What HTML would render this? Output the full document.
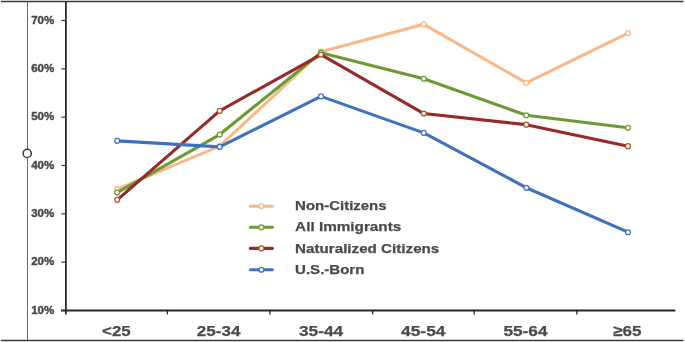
<!DOCTYPE html><html><head><meta charset="utf-8"><style>html,body{margin:0;padding:0;background:#fff;}svg{display:block;filter:blur(0.45px);}text{font-family:"Liberation Sans", sans-serif;font-weight:bold;fill:#4a4a4a;stroke:#4a4a4a;stroke-width:0.25px;}</style></head><body><svg width="685" height="342" viewBox="0 0 685 342"><rect width="685" height="342" fill="#fff"/><line x1="1" y1="1.5" x2="683.5" y2="1.5" stroke="#3a3a3a" stroke-width="1.4"/><line x1="1" y1="340.5" x2="683.5" y2="340.5" stroke="#3a3a3a" stroke-width="1.4"/><line x1="27.5" y1="1.5" x2="27.5" y2="340.5" stroke="#6a6a6a" stroke-width="1"/><circle cx="27.2" cy="153.4" r="4.1" fill="#fff" stroke="#3a3a3a" stroke-width="1.5"/><line x1="65.9" y1="1.5" x2="65.9" y2="314.6" stroke="#2a2a2a" stroke-width="1.8"/><line x1="61" y1="310.5" x2="675.3" y2="310.5" stroke="#262626" stroke-width="1.8"/><line x1="61.5" y1="20.50" x2="66" y2="20.50" stroke="#333" stroke-width="1.2"/><text x="31.20" y="23.80" font-size="11.2" textLength="23.10" lengthAdjust="spacingAndGlyphs" style="stroke-width:0.4px">70%</text><line x1="61.5" y1="68.83" x2="66" y2="68.83" stroke="#333" stroke-width="1.2"/><text x="31.20" y="72.13" font-size="11.2" textLength="23.10" lengthAdjust="spacingAndGlyphs" style="stroke-width:0.4px">60%</text><line x1="61.5" y1="117.17" x2="66" y2="117.17" stroke="#333" stroke-width="1.2"/><text x="31.20" y="120.47" font-size="11.2" textLength="23.10" lengthAdjust="spacingAndGlyphs" style="stroke-width:0.4px">50%</text><line x1="61.5" y1="165.50" x2="66" y2="165.50" stroke="#333" stroke-width="1.2"/><text x="31.20" y="168.80" font-size="11.2" textLength="23.10" lengthAdjust="spacingAndGlyphs" style="stroke-width:0.4px">40%</text><line x1="61.5" y1="213.83" x2="66" y2="213.83" stroke="#333" stroke-width="1.2"/><text x="31.20" y="217.13" font-size="11.2" textLength="23.10" lengthAdjust="spacingAndGlyphs" style="stroke-width:0.4px">30%</text><line x1="61.5" y1="262.17" x2="66" y2="262.17" stroke="#333" stroke-width="1.2"/><text x="31.20" y="265.47" font-size="11.2" textLength="23.10" lengthAdjust="spacingAndGlyphs" style="stroke-width:0.4px">20%</text><line x1="61.5" y1="310.50" x2="66" y2="310.50" stroke="#333" stroke-width="1.2"/><text x="31.20" y="313.80" font-size="11.2" textLength="23.10" lengthAdjust="spacingAndGlyphs" style="stroke-width:0.4px">10%</text><line x1="167.40" y1="310.5" x2="167.40" y2="314.4" stroke="#262626" stroke-width="1.3"/><line x1="269.90" y1="310.5" x2="269.90" y2="314.4" stroke="#262626" stroke-width="1.3"/><line x1="372.60" y1="310.5" x2="372.60" y2="314.4" stroke="#262626" stroke-width="1.3"/><line x1="474.20" y1="310.5" x2="474.20" y2="314.4" stroke="#262626" stroke-width="1.3"/><line x1="576.80" y1="310.5" x2="576.80" y2="314.4" stroke="#262626" stroke-width="1.3"/><text x="102.10" y="336.3" font-size="15.2" textLength="28.50" lengthAdjust="spacingAndGlyphs">&lt;25</text><text x="196.70" y="336.3" font-size="15.2" textLength="43.80" lengthAdjust="spacingAndGlyphs">25-34</text><text x="299.00" y="336.3" font-size="15.2" textLength="44.20" lengthAdjust="spacingAndGlyphs">35-44</text><text x="401.00" y="336.3" font-size="15.2" textLength="44.50" lengthAdjust="spacingAndGlyphs">45-54</text><text x="503.40" y="336.3" font-size="15.2" textLength="44.10" lengthAdjust="spacingAndGlyphs">55-64</text><text x="613.20" y="336.3" font-size="15.2" textLength="28.30" lengthAdjust="spacingAndGlyphs">&#8805;65</text><polyline points="117.20,189.18 219.70,146.17 321.00,51.68 423.80,24.37 526.30,82.85 628.00,33.07" fill="none" stroke="#F8B986" stroke-width="3.10" stroke-linejoin="round" stroke-linecap="round"/><circle cx="117.20" cy="189.18" r="2.45" fill="#fff" stroke="#F8B986" stroke-width="1.25"/><circle cx="219.70" cy="146.17" r="2.45" fill="#fff" stroke="#F8B986" stroke-width="1.25"/><circle cx="321.00" cy="51.68" r="2.45" fill="#fff" stroke="#F8B986" stroke-width="1.25"/><circle cx="423.80" cy="24.37" r="2.45" fill="#fff" stroke="#F8B986" stroke-width="1.25"/><circle cx="526.30" cy="82.85" r="2.45" fill="#fff" stroke="#F8B986" stroke-width="1.25"/><circle cx="628.00" cy="33.07" r="2.45" fill="#fff" stroke="#F8B986" stroke-width="1.25"/><polyline points="117.20,192.57 219.70,134.57 321.00,52.64 423.80,78.74 526.30,115.23 628.00,127.80" fill="none" stroke="#6C9A33" stroke-width="3.10" stroke-linejoin="round" stroke-linecap="round"/><circle cx="117.20" cy="192.57" r="2.45" fill="#fff" stroke="#6C9A33" stroke-width="1.25"/><circle cx="219.70" cy="134.57" r="2.45" fill="#fff" stroke="#6C9A33" stroke-width="1.25"/><circle cx="321.00" cy="52.64" r="2.45" fill="#fff" stroke="#6C9A33" stroke-width="1.25"/><circle cx="423.80" cy="78.74" r="2.45" fill="#fff" stroke="#6C9A33" stroke-width="1.25"/><circle cx="526.30" cy="115.23" r="2.45" fill="#fff" stroke="#6C9A33" stroke-width="1.25"/><circle cx="628.00" cy="127.80" r="2.45" fill="#fff" stroke="#6C9A33" stroke-width="1.25"/><polyline points="117.20,199.82 219.70,110.88 321.00,54.57 423.80,113.54 526.30,124.66 628.00,146.17" fill="none" stroke="#982829" stroke-width="3.10" stroke-linejoin="round" stroke-linecap="round"/><circle cx="117.20" cy="199.82" r="2.45" fill="#fff" stroke="#A95B28" stroke-width="1.25"/><circle cx="219.70" cy="110.88" r="2.45" fill="#fff" stroke="#A95B28" stroke-width="1.25"/><circle cx="321.00" cy="54.57" r="2.45" fill="#fff" stroke="#A95B28" stroke-width="1.25"/><circle cx="423.80" cy="113.54" r="2.45" fill="#fff" stroke="#A95B28" stroke-width="1.25"/><circle cx="526.30" cy="124.66" r="2.45" fill="#fff" stroke="#A95B28" stroke-width="1.25"/><circle cx="628.00" cy="146.17" r="2.45" fill="#fff" stroke="#A95B28" stroke-width="1.25"/><polyline points="117.20,140.85 219.70,146.89 321.00,96.38 423.80,132.88 526.30,187.73 628.00,232.20" fill="none" stroke="#3F71C1" stroke-width="3.10" stroke-linejoin="round" stroke-linecap="round"/><circle cx="117.20" cy="140.85" r="2.45" fill="#fff" stroke="#3F71C1" stroke-width="1.25"/><circle cx="219.70" cy="146.89" r="2.45" fill="#fff" stroke="#3F71C1" stroke-width="1.25"/><circle cx="321.00" cy="96.38" r="2.45" fill="#fff" stroke="#3F71C1" stroke-width="1.25"/><circle cx="423.80" cy="132.88" r="2.45" fill="#fff" stroke="#3F71C1" stroke-width="1.25"/><circle cx="526.30" cy="187.73" r="2.45" fill="#fff" stroke="#3F71C1" stroke-width="1.25"/><circle cx="628.00" cy="232.20" r="2.45" fill="#fff" stroke="#3F71C1" stroke-width="1.25"/><line x1="250.4" y1="206.20" x2="272.3" y2="206.20" stroke="#F8B986" stroke-width="3.10" stroke-linecap="round"/><circle cx="261.4" cy="206.20" r="2.45" fill="#fff" stroke="#F8B986" stroke-width="1.25"/><text x="295.10" y="210.30" font-size="13.3" textLength="91.50" lengthAdjust="spacingAndGlyphs">Non-Citizens</text><line x1="250.4" y1="227.20" x2="272.3" y2="227.20" stroke="#6C9A33" stroke-width="3.10" stroke-linecap="round"/><circle cx="261.4" cy="227.20" r="2.45" fill="#fff" stroke="#6C9A33" stroke-width="1.25"/><text x="295.10" y="231.30" font-size="13.3" textLength="106.20" lengthAdjust="spacingAndGlyphs">All Immigrants</text><line x1="250.4" y1="248.40" x2="272.3" y2="248.40" stroke="#982829" stroke-width="3.10" stroke-linecap="round"/><circle cx="261.4" cy="248.40" r="2.45" fill="#fff" stroke="#A95B28" stroke-width="1.25"/><text x="295.10" y="252.50" font-size="13.3" textLength="144.20" lengthAdjust="spacingAndGlyphs">Naturalized Citizens</text><line x1="250.4" y1="269.70" x2="272.3" y2="269.70" stroke="#3F71C1" stroke-width="3.10" stroke-linecap="round"/><circle cx="261.4" cy="269.70" r="2.45" fill="#fff" stroke="#3F71C1" stroke-width="1.25"/><text x="295.10" y="273.80" font-size="13.3" textLength="69.30" lengthAdjust="spacingAndGlyphs">U.S.-Born</text></svg></body></html>
